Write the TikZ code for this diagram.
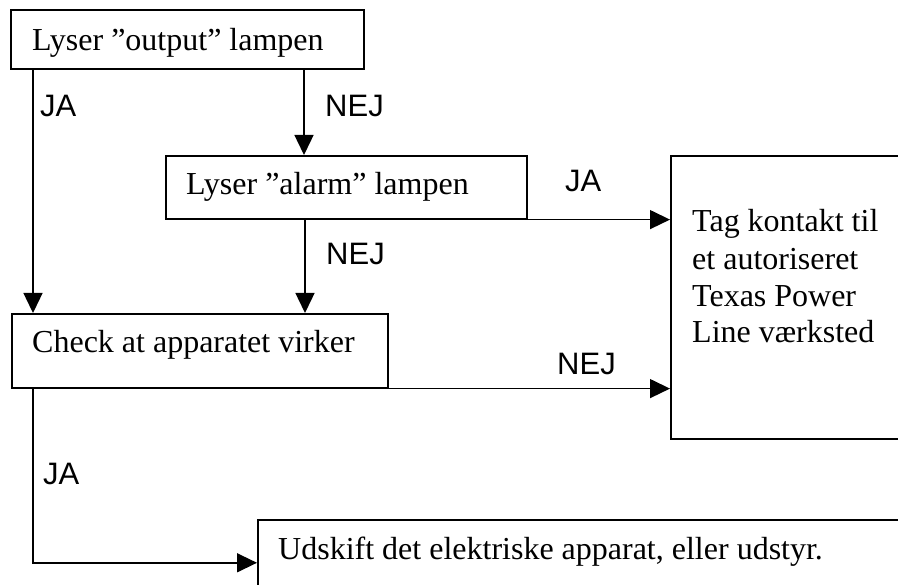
\documentclass[tikz,border=0pt]{standalone}
\usepackage{fontspec}
\setmainfont{Liberation Serif}
\setsansfont{Liberation Sans}
\usetikzlibrary{arrows.meta}
\tikzset{
  box/.style={draw=black, line width=1.6pt, inner sep=0pt, anchor=north west},
  txt/.style={inner sep=0pt, anchor=base west, font=\fontsize{32}{37}\selectfont\rmfamily},
  lbl/.style={inner sep=0pt, anchor=base west, font=\fontsize{31}{36}\selectfont\sffamily},
  arr/.style={line width=1.4pt, -{Triangle[length=20pt,width=19pt]}},
  ln/.style={line width=1.4pt}
}
\begin{document}
\begin{tikzpicture}[x=1pt,y=-1pt]
\clip (0,0) rectangle (898,585);
\fill[white] (0,0) rectangle (898,585);
% boxes
\node[box, minimum width=353pt, minimum height=59pt] (b1) at (10,9) {};
\node[box, minimum width=361pt, minimum height=63pt] (b2) at (165,155) {};
\node[box, minimum width=376pt, minimum height=74pt] (b3) at (11,313) {};
\node[box, minimum width=240pt, minimum height=283pt] (b4) at (670,155) {};
\node[box, minimum width=660pt, minimum height=86pt] (b5) at (257,519) {};
% texts
\node[txt] (t1) at (32,51) {Lyser ”output” lampen};
\node[txt] (t2) at (186,195) {Lyser ”alarm” lampen};
\node[txt] (t3) at (32,353) {Check at apparatet virker};
\node[txt] (t4a) at (692,232) {Tag kontakt til};
\node[txt] (t4b) at (692,270) {et autoriseret};
\node[txt] (t4c) at (692,307) {Texas Power};
\node[txt] (t4d) at (692,343) {Line værksted};
\node[txt] (t5) at (278,559) {Udskift det elektriske apparat, eller udstyr.};
% connector anchors
\coordinate (c1) at (b1.south west -| 33,0);
\coordinate (c2) at (b1.south west -| 304,0);
\coordinate (c3) at (b2.south west -| 305,0);
\coordinate (c4) at (b3.south west -| 33,0);
% connectors
\draw[arr] (c1) -- (c1 |- b3.north);
\draw[arr] (c2) -- (c2 |- b2.north);
\draw[arr] (b2.south east) -- (b2.south east -| b4.west);
\draw[arr] (c3) -- (c3 |- b3.north);
\draw[arr] (b3.south east) -- (b3.south east -| b4.west);
\draw[arr] (c4) |- (b5.west);
% labels
\node[lbl] (l1) at (40,117) {JA};
\node[lbl] (l2) at (325,117) {NEJ};
\node[lbl] (l3) at (565,192) {JA};
\node[lbl] (l4) at (326,265) {NEJ};
\node[lbl] (l5) at (557,375) {NEJ};
\node[lbl] (l6) at (43,485) {JA};
\end{tikzpicture}
\end{document}
